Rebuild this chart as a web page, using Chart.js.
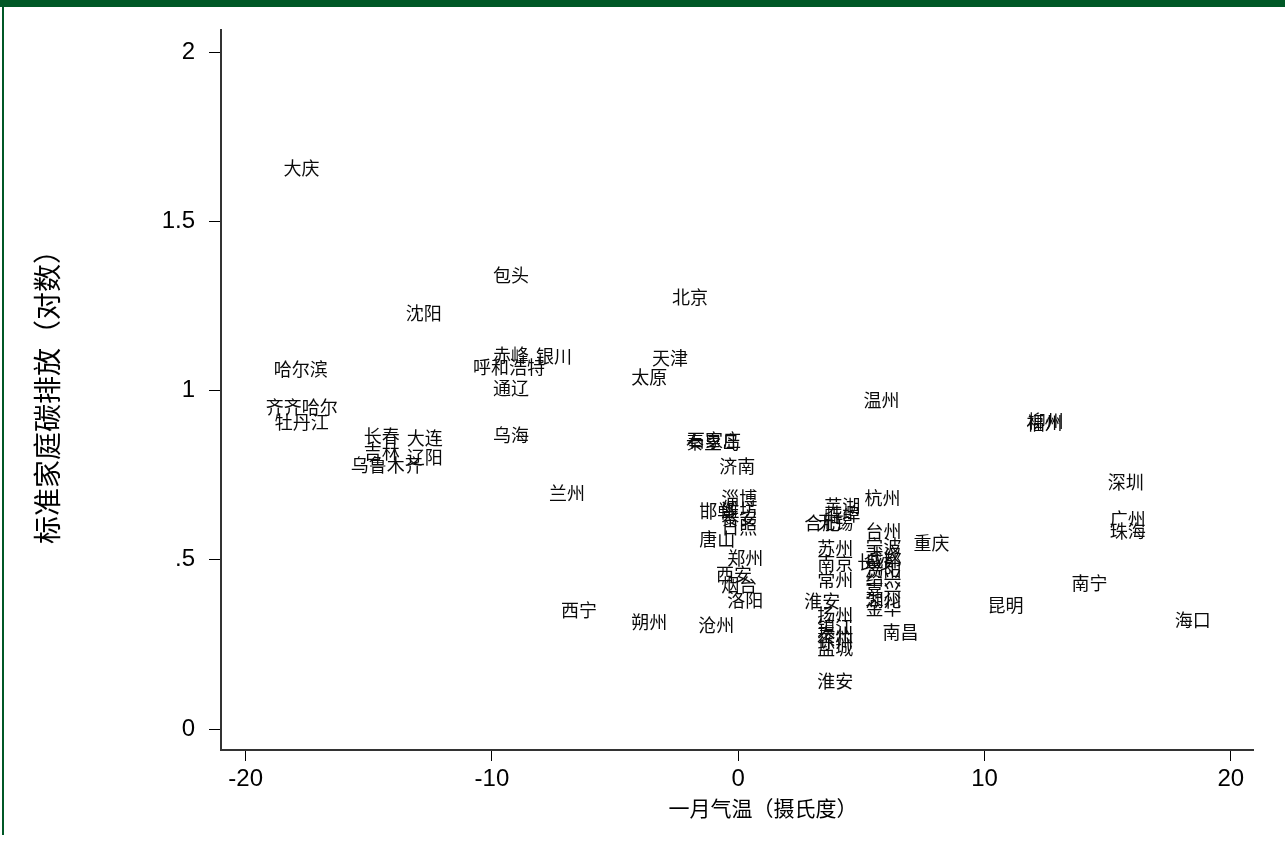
<!DOCTYPE html>
<html>
<head>
<meta charset="utf-8">
<script src="https://cdn.jsdelivr.net/npm/chart.js@4/dist/chart.umd.min.js"></script>
<style>
html,body{margin:0;padding:0;background:#fff;}
#wrap{width:1285px;height:842px;position:relative;}
</style>
</head>
<body>
<div id="wrap"><canvas id="c" width="1285" height="842"></canvas></div>
<script>
// City labels
const cities = [
  '大庆','包头','沈阳','哈尔滨','齐齐哈尔','牡丹江','长春','大连','吉林','辽阳','乌鲁木齐',
  '呼和浩特','赤峰','银川','通辽','乌海','北京','天津','太原','秦皇岛','石家庄',
  '济南','兰州','淄博','邯郸','潍坊','泰安','日照','唐山','郑州','西安','烟台','洛阳',
  '西宁','朔州','沧州',
  '杭州','芜湖','蚌埠','合肥','无锡','台州','重庆','苏州','宁波','武汉','长沙','南京',
  '成都','贵阳','常州','绍兴','嘉兴','淮安','湖州','金华','扬州','镇江','泰州','徐州',
  '盐城','南昌','淮安',
  '福州','柳州','深圳','广州','珠海','南宁','昆明','海口','温州'
];
// January temperature (deg C)
const janTemp = [
  -18.62,-10.12,-13.66,-19.02,-19.35,-18.98,-15.37,-13.62,-15.37,-13.62,-15.89,
  -10.93,-10.12,-8.37,-10.12,-10.12,-2.85,-3.66,-4.51,-2.28,-2.24,
  -0.93,-7.85,-0.85,-1.75,-0.85,-0.85,-0.85,-1.75,-0.61,-1.06,-0.85,-0.61,
  -7.36,-4.51,-1.79,
  4.96,3.33,3.33,2.52,3.05,5.0,6.95,3.05,5.0,5.0,4.67,3.05,
  5.0,5.0,3.05,5.0,5.0,2.52,5.0,5.0,3.05,3.05,3.05,3.05,
  3.05,5.69,3.05,
  11.54,11.59,14.84,14.92,14.92,13.37,9.96,17.56,4.92
];
// Standard household carbon emissions (log)
const logEmission = [
  1.657,1.341,1.229,1.064,0.951,0.907,0.866,0.860,0.818,0.804,0.780,
  1.069,1.105,1.102,1.007,0.869,1.276,1.096,1.040,0.848,0.854,
  0.777,0.697,0.682,0.644,0.647,0.623,0.597,0.561,0.505,0.458,0.425,0.381,
  0.352,0.316,0.307,
  0.682,0.659,0.635,0.609,0.612,0.585,0.549,0.535,0.541,0.514,0.493,0.490,
  0.499,0.470,0.440,0.446,0.411,0.378,0.381,0.357,0.337,0.301,0.281,0.260,
  0.239,0.287,0.142,
  0.904,0.910,0.730,0.620,0.585,0.431,0.366,0.322,0.972
];
const xTicks = [-20,-10,0,10,20];
const yTicks = [0,0.5,1,1.5,2];
const yTickLabels = ['0','.5','1','1.5','2'];
const xTitle = '一月气温（摄氏度）';
const yTitle = '标准家庭碳排放（对数）';

const points = janTemp.map((x,i)=>({x:x,y:logEmission[i]}));

const frame = {
  id:'frame',
  beforeDraw(chart){
    const ctx = chart.ctx;
    ctx.save();
    ctx.fillStyle = '#ffffff';
    ctx.fillRect(0,0,chart.width,chart.height);
    ctx.fillStyle = '#005826';
    ctx.fillRect(0,0,chart.width,7);
    ctx.fillRect(2,7,2,828);
    ctx.restore();
  }
};

const labelPlugin = {
  id:'cityLabels',
  afterDatasetsDraw(chart){
    const ctx = chart.ctx;
    const meta = chart.getDatasetMeta(0);
    ctx.save();
    ctx.font = '18px "Noto Sans CJK SC", sans-serif';
    ctx.fillStyle = '#0a0a0a';
    ctx.textBaseline = 'middle';
    ctx.textAlign = 'left';
    meta.data.forEach((el,i)=>{
      ctx.fillText(cities[i], el.x + 4, el.y);
    });
    ctx.restore();
  }
};

// x-axis title, drawn slightly right of the axis centre as in the original
const xTitlePlugin = {
  id:'xTitle',
  afterDraw(chart){
    const ctx = chart.ctx;
    const a = chart.chartArea;
    ctx.save();
    ctx.font = '21px "Noto Sans CJK SC", sans-serif';
    ctx.fillStyle = '#000';
    ctx.textAlign = 'center';
    ctx.textBaseline = 'middle';
    ctx.fillText(xTitle, (a.left + a.right)/2 + 26, 808);
    ctx.restore();
  }
};

new Chart(document.getElementById('c'),{
  type:'scatter',
  data:{datasets:[{data:points,pointRadius:0,pointHoverRadius:0,showLine:false}]},
  options:{
    responsive:false,
    animation:false,
    events:[],
    layout:{padding:{left:0,top:30,right:32,bottom:0}},
    plugins:{legend:{display:false},tooltip:{enabled:false}},
    scales:{
      x:{
        type:'linear',min:-21.0,max:20.9,
        afterBuildTicks(s){ s.ticks = xTicks.map(v=>({value:v})); },
        afterFit(s){ s.height = 92; },
        grid:{display:true,drawOnChartArea:false,drawTicks:true,tickLength:11,tickColor:'#000',tickWidth:1},
        border:{display:true,color:'#333',width:2},
        ticks:{color:'#000',padding:4,maxRotation:0,autoSkip:false,
          font:{family:'"Liberation Sans", Arial, sans-serif',size:24},
          callback:(v)=>String(v)},
        title:{display:false}
      },
      y:{
        type:'linear',min:-0.062,max:2.065,
        afterBuildTicks(s){ s.ticks = yTicks.map(v=>({value:v})); },
        afterFit(s){ s.width = 221; },
        grid:{display:true,drawOnChartArea:false,drawTicks:true,tickLength:12,tickColor:'#000',tickWidth:1},
        border:{display:true,color:'#333',width:2},
        ticks:{color:'#000',padding:14,autoSkip:false,
          font:{family:'"Liberation Sans", Arial, sans-serif',size:24},
          callback:(v)=>{const i=yTicks.indexOf(v);return i>=0?yTickLabels[i]:'';}},
        title:{display:true,text:yTitle,color:'#000',
          font:{family:'"Noto Sans CJK SC", sans-serif',size:28},
          padding:{top:31,bottom:0}}
      }
    }
  },
  plugins:[frame,labelPlugin,xTitlePlugin]
});
</script>
</body>
</html>
